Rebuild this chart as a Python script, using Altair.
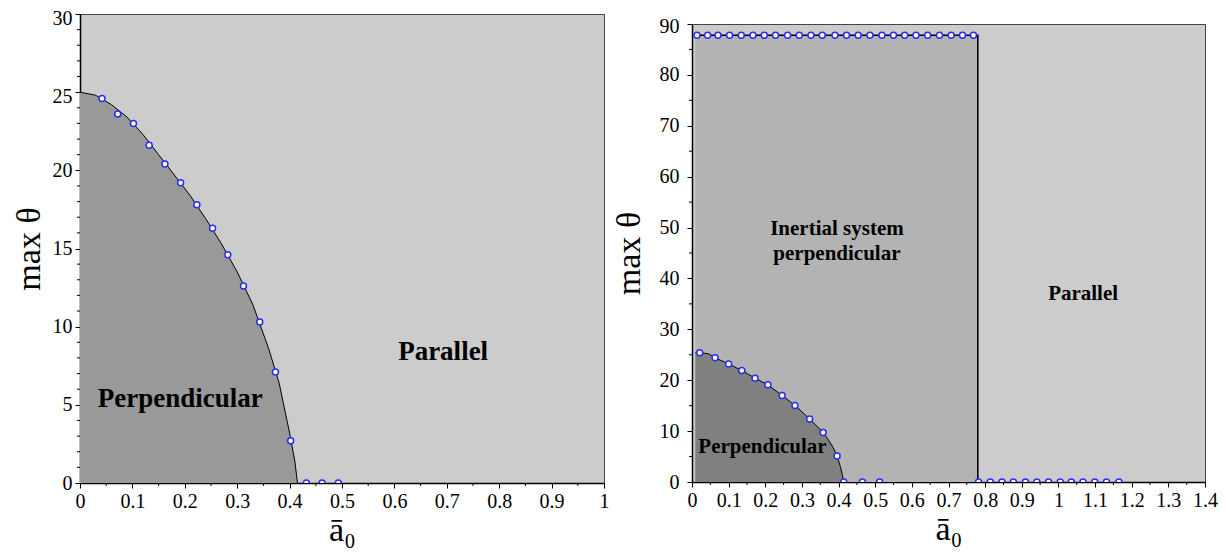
import altair as alt
import pandas as pd

# ---------------- data: left panel ----------------
L_curve_x = [0, 0.03, 0.06, 0.09, 0.12, 0.15, 0.18, 0.21, 0.24, 0.27, 0.30, 0.33, 0.36, 0.38, 0.40, 0.41, 0.415]
L_curve_y = [25.0, 24.8, 24.2, 23.4, 22.3, 21.0, 19.7, 18.4, 16.9, 15.3, 13.5, 11.4, 8.6, 6.4, 3.2, 1.4, 0]
L_pts_x = [0.042, 0.072, 0.102, 0.132, 0.162, 0.192, 0.223, 0.253, 0.282, 0.312, 0.343, 0.373, 0.402, 0.432, 0.462, 0.493]
L_pts_y = [24.6, 23.6, 23.0, 21.6, 20.4, 19.2, 17.8, 16.3, 14.6, 12.6, 10.3, 7.1, 2.7, 0, 0, 0]
L_text = ["Perpendicular", "Parallel"]
L_text_x = [0.1915, 0.693]
L_text_y = [5.4, 8.35]
L_xticks = [0, 0.1, 0.2, 0.3, 0.4, 0.5, 0.6, 0.7, 0.8, 0.9, 1]
L_xminor = [0.05, 0.15, 0.25, 0.35, 0.45, 0.55, 0.65, 0.75, 0.85, 0.95]
L_yticks = [0, 5, 10, 15, 20, 25, 30]
L_yminor = [1, 2, 3, 4, 6, 7, 8, 9, 11, 12, 13, 14, 16, 17, 18, 19, 21, 22, 23, 24, 26, 27, 28, 29]

# ---------------- data: right panel ----------------
R_region_x = [0.009, 0.78]
R_region_y = [0, 87.8]
R_curve_x = [0.009, 0.021, 0.045, 0.063, 0.100, 0.136, 0.172, 0.207, 0.246, 0.281, 0.321, 0.358, 0.372, 0.385, 0.396, 0.405, 0.411, 0.414]
R_curve_y = [25.4, 25.4, 25.2, 24.4, 23.2, 21.9, 20.4, 19.1, 17.0, 15.05, 12.4, 9.75, 8.3, 6.8, 5.1, 3.0, 1.2, 0]
R_pts_x = [0.021, 0.063, 0.100, 0.136, 0.172, 0.207, 0.246, 0.281, 0.321, 0.358, 0.396, 0.414, 0.465, 0.512,
           0.782, 0.814, 0.846, 0.877, 0.910, 0.941, 0.973, 1.005, 1.035, 1.067, 1.099, 1.131, 1.165]
R_pts_y = [25.4, 24.4, 23.2, 21.9, 20.4, 19.1, 17.0, 15.05, 12.4, 9.75, 5.1, 0, 0, 0,
           0, 0, 0, 0, 0, 0, 0, 0, 0, 0, 0, 0, 0]
R_top_x = [0.0136, 0.0426, 0.0709, 0.1026, 0.1345, 0.1664, 0.1972, 0.2280, 0.2608, 0.2927, 0.3246, 0.3554,
           0.3901, 0.4217, 0.4536, 0.4855, 0.5183, 0.5499, 0.5805, 0.6113, 0.6432, 0.6754, 0.7073, 0.7381, 0.7681]
R_top_y = [87.8, 87.8, 87.8, 87.8, 87.8, 87.8, 87.8, 87.8, 87.8, 87.8, 87.8, 87.8,
           87.8, 87.8, 87.8, 87.8, 87.8, 87.8, 87.8, 87.8, 87.8, 87.8, 87.8, 87.8, 87.8]
R_bound_x = [0.0136, 0.78, 0.78]
R_bound_y = [87.8, 87.8, 0]
R_text = ["Inertial system\nperpendicular", "Parallel", "Perpendicular"]
R_text_x = [0.3955, 1.0674, 0.1923]
R_text_y = [49.8, 37.0, 6.9]
R_xticks = [0, 0.1, 0.2, 0.3, 0.4, 0.5, 0.6, 0.7, 0.8, 0.9, 1, 1.1, 1.2, 1.3, 1.4]
R_xminor = [0.05, 0.15, 0.25, 0.35, 0.45, 0.55, 0.65, 0.75, 0.85, 0.95, 1.05, 1.15, 1.25, 1.35]
R_yticks = [0, 10, 20, 30, 40, 50, 60, 70, 80, 90]
R_yminor = [5, 15, 25, 35, 45, 55, 65, 75, 85]

SERIF = "Liberation Serif"
LIGHT = "#cccccc"
PT_STROKE = "#2a2aff"


def xaxis(values):
    return alt.Axis(values=values, format=".2~f", title="ā₀", grid=False,
                    labelFlush=False, labelOverlap=False,
                    tickSize=5, tickColor="black", tickWidth=1,
                    domainColor="black", domainWidth=1.5,
                    labelFont=SERIF, labelFontSize=20, labelColor="black", labelPadding=3,
                    titleFont=SERIF, titleFontSize=34, titleFontWeight="normal",
                    titleColor="black", titleBaseline="alphabetic", titleY=57)


def yaxis(values, lab_pad, title_pad, off_test, off_val):
    return alt.Axis(values=values, format=".2~f", title="max θ", grid=False,
                    labelFlush=False, labelOverlap=False,
                    tickSize=5, tickColor="black", tickWidth=1,
                    domainColor="black", domainWidth=1.5,
                    labelFont=SERIF, labelFontSize=20, labelColor="black", labelPadding=lab_pad,
                    labelOffset={"condition": {"test": off_test, "value": off_val}, "value": 0},
                    titleFont=SERIF, titleFontSize=34, titleFontWeight="normal",
                    titleColor="black", titlePadding=title_pad)


def panel(xdom, ydom, W, H, xticks, xminor, yax, layers_before, curve, pts, extra_lines,
          texts, dark, fsize, yminor):
    xs = alt.Scale(domain=xdom, nice=False, zero=False)
    ys = alt.Scale(domain=ydom, nice=False, zero=False)
    xax = xaxis(xticks)

    def X(f):
        return alt.X(f, scale=xs, axis=xax)

    def Y(f):
        return alt.Y(f, scale=ys, axis=yax)

    layers = []
    layers += layers_before(X, Y)
    cdf = pd.DataFrame({"x": curve[0], "y": curve[1]})
    layers.append(alt.Chart(cdf).mark_area(color=dark, opacity=1).encode(x=X("x:Q"), y=Y("y:Q")))
    layers.append(alt.Chart(cdf).mark_line(color="black", strokeWidth=1).encode(x=X("x:Q"), y=Y("y:Q")))
    for lx, ly in extra_lines:
        ldf = pd.DataFrame({"x": lx, "y": ly, "o": list(range(len(lx)))})
        layers.append(alt.Chart(ldf).mark_line(color="black", strokeWidth=1.6).encode(
            x=X("x:Q"), y=Y("y:Q"), order="o:Q"))
    for px, py in pts:
        pdf = pd.DataFrame({"x": px, "y": py})
        layers.append(alt.Chart(pdf).mark_point(shape="circle", filled=True, fill="white",
                                                stroke=PT_STROKE, strokeWidth=1.5, size=36,
                                                opacity=1, clip=True).encode(x=X("x:Q"), y=Y("y:Q")))
    tdf = pd.DataFrame({"x": texts[0], "y": texts[1], "t": texts[2]})
    layers.append(alt.Chart(tdf).mark_text(font=SERIF, fontWeight="bold", fontSize=fsize, color="black",
                                           align="center", baseline="middle", lineBreak="\n",
                                           lineHeight=25).encode(x=X("x:Q"), y=Y("y:Q"), text="t:N"))
    # minor ticks
    layers.append(alt.Chart(pd.DataFrame({"v": xminor})).mark_rule(color="black", strokeWidth=1, clip=False).encode(
        x=X("v:Q"), y=alt.value(H), y2=alt.value(H + 3)))
    layers.append(alt.Chart(pd.DataFrame({"v": yminor})).mark_rule(color="black", strokeWidth=1, clip=False).encode(
        y=Y("v:Q"), x=alt.value(0), x2=alt.value(-3)))
    return alt.layer(*layers).properties(width=W, height=H)


def left_before(X, Y):
    return []


def right_before(X, Y):
    rdf = pd.DataFrame({"x": [R_region_x[0]], "x2": [R_region_x[1]], "y": [R_region_y[0]], "y2": [R_region_y[1]]})
    return [alt.Chart(rdf).mark_rect(color="#b3b3b3", opacity=1).encode(
        x=X("x:Q"), x2="x2:Q", y=Y("y:Q"), y2="y2:Q")]


left = panel([0, 1], [0, 30], 524, 469, L_xticks, L_xminor,
             yaxis(L_yticks, 3, 6, "datum.value >= 25", 4), left_before,
             (L_curve_x, L_curve_y), [(L_pts_x, L_pts_y)], [],
             (L_text_x, L_text_y, L_text), "#999999", 27, L_yminor)

right = panel([0, 1.4], [0, 90], 513, 458, R_xticks, R_xminor,
              yaxis(R_yticks, 8, 13, "datum.value == 90", 2), right_before,
              (R_curve_x, R_curve_y), [(R_pts_x, R_pts_y), (R_top_x, R_top_y)], [(R_bound_x, R_bound_y)],
              (R_text_x, R_text_y, R_text), "#808080", 21, R_yminor)

spacer = alt.Chart(pd.DataFrame({"v": [0]})).mark_point(opacity=0).properties(
    width=513, height=10, view=alt.ViewBackground(fill="transparent", stroke="transparent"))

right_col = alt.vconcat(spacer, right, spacing=0, bounds="flush")

chart = alt.hconcat(left, right_col, spacing=1).properties(
    padding={"left": 3, "top": -1, "right": 0, "bottom": 0}
).configure_view(fill=LIGHT, stroke="#444444", strokeWidth=1).configure_axis(
    labelFont=SERIF, titleFont=SERIF)

chart.save("out.html", embed_options={"renderer": "svg", "actions": False})
